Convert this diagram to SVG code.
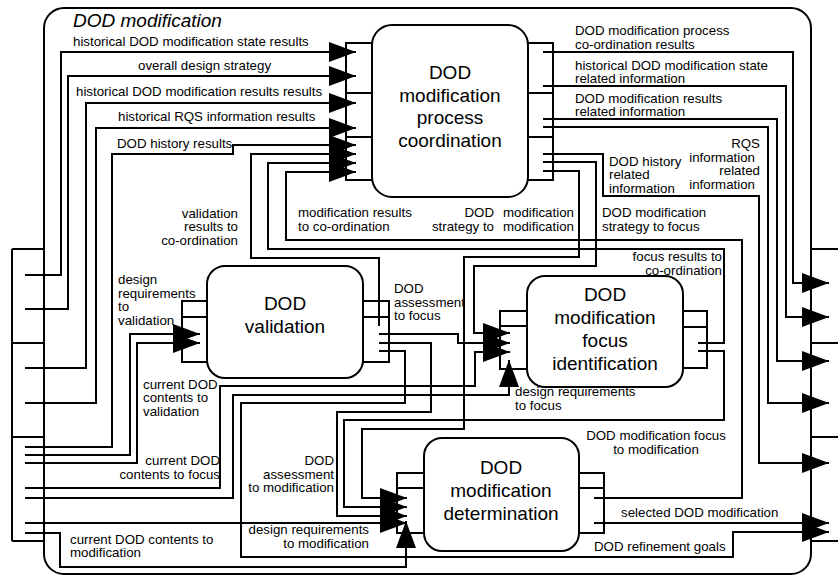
<svg xmlns="http://www.w3.org/2000/svg" width="838" height="576" viewBox="0 0 838 576">
<style>
.ln{fill:none;stroke:#000;stroke-width:2}
.ar{fill:none;stroke:#000;stroke-width:2;marker-end:url(#ah)}
.box{fill:#fff;stroke:#000;stroke-width:2}
text{font-family:"Liberation Sans",Arial,Helvetica,sans-serif;fill:#000}
.s{font-size:13.3px}
.b{font-size:19px;text-anchor:middle}
.e{text-anchor:end}
.m{text-anchor:middle}
</style>
<defs>
<marker id="ah" markerUnits="userSpaceOnUse" markerWidth="27" markerHeight="20" refX="27" refY="10" orient="auto" viewBox="0 0 27 20"><path d="M0,0L27,10L0,20z" fill="#000"/></marker>
</defs>
<rect x="0" y="0" width="838" height="576" fill="#fff"/>
<g id="frame">
<rect class="ln" x="44" y="8" width="767" height="566" rx="20"/>
<text x="73" y="27" font-size="19" font-style="italic">DOD modification</text>
<path class="ln" d="M12,249V541M12,249H44M12,343H44M12,437H44M12,541H44M811,249H838M811,343H838M811,437H838M811,541H838"/>
</g>
<g id="connectors">
<path class="ar" d="M25,275H61V52H356"/>
<path class="ar" d="M25,309H68V76H356"/>
<path class="ar" d="M25,368H86V103H356"/>
<path class="ar" d="M25,403H96V128H356"/>
<path class="ar" d="M25,447H112V154H233V145H356"/>
<path class="ar" d="M379,326V258H251V154H356"/>
<path class="ar" d="M698,343H724V249H268V163H356"/>
<path class="ar" d="M594,498H742V240H286V172H356"/>
<path class="ar" d="M543,52H793V283H829"/>
<path class="ar" d="M543,86H786V317H829"/>
<path class="ar" d="M543,119H777V361H829"/>
<path class="ar" d="M543,127H768V403H829"/>
<path class="ar" d="M543,154H603V196H759V463H829"/>
<path class="ar" d="M543,162H596V266H474V333H510"/>
<path class="ar" d="M543,171H579V257H464V429H362V498H407"/>
<path class="ar" d="M25,455H130V334H200"/>
<path class="ar" d="M25,463H137V343H200"/>
<path class="ar" d="M379,334H458V343H510"/>
<path class="ar" d="M379,343H431V412H337V516H407"/>
<path class="ar" d="M379,351H405V403H241V557H733V532H829"/>
<path class="ar" d="M25,488H220V386H475V352H510"/>
<path class="ar" d="M25,498H233V395H509V360"/>
<path class="ar" d="M698,351H724V420H344V507H407"/>
<path class="ar" d="M25,523H407"/>
<path class="ar" d="M25,533H60V567H406V521"/>
<path class="ar" d="M594,523H829"/>
<g class="s">
<text x="73" y="46">historical DOD modification state results</text>
<text x="138" y="70">overall design strategy</text>
<text x="76" y="96">historical DOD modification results results</text>
<text x="118" y="121">historical RQS information results</text>
<text x="117" y="148">DOD history results</text>
<text x="575" y="35">DOD modification process</text>
<text x="575" y="48.5">co-ordination results</text>
<text x="575" y="69.5">historical DOD modification state</text>
<text x="575" y="83">related information</text>
<text x="575" y="102.5">DOD modification results</text>
<text x="575" y="116">related information</text>
<text class="e" x="760" y="148">RQS</text>
<text class="e" x="755" y="161.5">information</text>
<text class="e" x="760" y="175">related</text>
<text class="e" x="755" y="188.5">information</text>
<text x="609" y="165.5">DOD history</text>
<text x="609" y="179">related</text>
<text x="609" y="192.5">information</text>
<text x="602" y="217">DOD modification</text>
<text x="602" y="230.5">strategy to focus</text>
<text class="e" x="494" y="217">DOD</text>
<text class="e" x="494" y="230.5">strategy to</text>
<text x="503" y="217">modification</text>
<text x="503" y="230.5">modification</text>
<text x="298" y="217">modification results</text>
<text x="298" y="230.5">to co-ordination</text>
<text class="e" x="238" y="217.5">validation</text>
<text class="e" x="238" y="231">results to</text>
<text class="e" x="238" y="244.5">co-ordination</text>
<text class="e" x="722" y="261">focus results to</text>
<text class="e" x="722" y="274.5">co-ordination</text>
<text x="118" y="284">design</text>
<text x="118" y="297.5">requirements</text>
<text x="118" y="311">to</text>
<text x="118" y="324.5">validation</text>
<text x="394" y="293">DOD</text>
<text x="394" y="306.5">assessment</text>
<text x="394" y="320">to focus</text>
<text x="143" y="388.5">current DOD</text>
<text x="143" y="402">contents to</text>
<text x="143" y="415.5">validation</text>
<text x="515" y="396">design requirements</text>
<text x="515" y="409.5">to focus</text>
<text class="m" x="656" y="440">DOD modification focus</text>
<text class="m" x="656" y="453.5">to modification</text>
<text class="e" x="220" y="465">current DOD</text>
<text class="e" x="220" y="478.5">contents to focus</text>
<text class="e" x="334" y="465">DOD</text>
<text class="e" x="334" y="478.5">assessment</text>
<text class="e" x="334" y="492">to modification</text>
<text x="621" y="517">selected DOD modification</text>
<text class="e" x="369" y="534">design requirements</text>
<text class="e" x="369" y="547.5">to modification</text>
<text x="70" y="543.5">current DOD contents to</text>
<text x="70" y="557">modification</text>
<text x="594" y="551">DOD refinement goals</text>
</g>
</g>
<g id="coordination">
<rect class="box" x="372" y="25" width="156" height="172" rx="20"/>
<path class="ln" d="M372,43H346V180H372M346,93H372M346,137H372M528,43H553V180H528M528,93H553M528,137H553"/>
<text class="b" x="450" y="79">DOD</text>
<text class="b" x="450" y="101.5">modification</text>
<text class="b" x="450" y="124">process</text>
<text class="b" x="450" y="146.5">coordination</text>
</g>
<g id="validation">
<rect class="box" x="207" y="266" width="156" height="112" rx="18"/>
<path class="ln" d="M207,301H182V362H207M182,317H207M363,301H389V362H363M363,317H389"/>
<text class="b" x="285" y="310">DOD</text>
<text class="b" x="285" y="333">validation</text>
</g>
<g id="focus">
<rect class="box" x="527" y="276" width="156" height="111" rx="18"/>
<path class="ln" d="M527,311H500V369H527M500,326H527M683,311H707V368H683M683,327H707"/>
<text class="b" x="605" y="301">DOD</text>
<text class="b" x="605" y="324">modification</text>
<text class="b" x="605" y="346.5">focus</text>
<text class="b" x="605" y="369.5">identification</text>
</g>
<g id="determination">
<rect class="box" x="424" y="438" width="155" height="113" rx="18"/>
<path class="ln" d="M424,473H397V533H424M397,488H424M579,473H604V533H579M579,488H604"/>
<text class="b" x="501" y="474">DOD</text>
<text class="b" x="501" y="497">modification</text>
<text class="b" x="501" y="519.5">determination</text>
</g>
</svg>
